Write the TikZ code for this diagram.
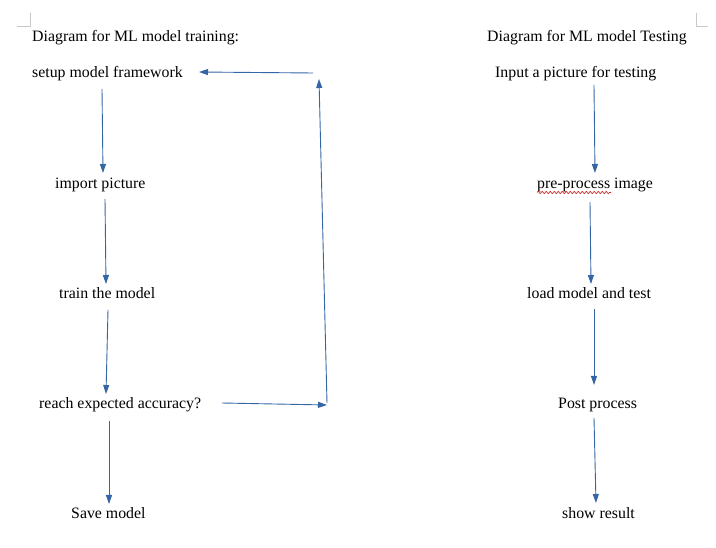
\documentclass[tikz,border=0pt]{standalone}
\usepackage{fontspec}
\setmainfont{Liberation Serif}
\usetikzlibrary{arrows.meta,decorations.pathmorphing}
\definecolor{arrowblue}{HTML}{3465A4}
\definecolor{markgray}{HTML}{C8C8C8}
\definecolor{squiggle}{HTML}{D02020}
\tikzset{
  lbl/.style={anchor=base west,inner sep=0pt,font=\fontsize{15.85}{19}\selectfont},
  flow/.style={draw=arrowblue,line width=0.9pt,-{Triangle[length=9pt,width=6pt]}},
  cornermark/.style={draw=markgray,line width=0.9pt}
}
\begin{document}
\begin{tikzpicture}[x=1pt,y=-1pt]
\useasboundingbox (0,0) rectangle (716,548);
% corner marks
\draw[cornermark] (30,13) -- (30,26) -- (17,26);
\draw[cornermark] (696,13) -- (696,26) -- (708,26);
% left column
\node[lbl] (h1) at (32,41.5) {Diagram for ML model training:};
\node[lbl] (s1) at (32,77.5) {setup model framework};
\node[lbl] (s2) at (55,188.5) {import picture};
\node[lbl] (s3) at (59,298.5) {train the model};
\node[lbl] (s4) at (39,408.5) {reach expected accuracy?};
\node[lbl] (s5) at (71,518.5) {Save model};
% right column
\node[lbl] (h2) at (487,41.5) {Diagram for ML model Testing};
\node[lbl] (t1) at (495,77.5) {Input a picture for testing};
\node[lbl] (t2) at (537,188.5) {pre-process image};
\node[lbl] (t3) at (527,298.5) {load model and test};
\node[lbl] (t4) at (558,408.5) {Post process};
\node[lbl] (t5) at (562,518.5) {show result};
% squiggly underline
\draw[squiggle,line width=0.6pt,decorate,decoration={snake,amplitude=1.2pt,segment length=4pt}] (537,192.5) -- (611,192.5);
% arrow endpoints
\coordinate (a1s) at (102,89);  \coordinate (a1e) at (103,173);
\coordinate (a2s) at (105,199); \coordinate (a2e) at (106,284);
\coordinate (a3s) at (108,310); \coordinate (a3e) at (106,394);
\coordinate (a4s) at (109,421); \coordinate (a4e) at (109,504);
\coordinate (a5s) at (222,403); \coordinate (a5e) at (327,405);
\coordinate (a6s) at (327,403); \coordinate (a6e) at (319,79);
\coordinate (a7s) at (313,73);  \coordinate (a7e) at (199,72);
\coordinate (b1s) at (594,85);  \coordinate (b1e) at (595,173);
\coordinate (b2s) at (590,202); \coordinate (b2e) at (591,284);
\coordinate (b3s) at (594,309); \coordinate (b3e) at (594,385);
\coordinate (b4s) at (594,418); \coordinate (b4e) at (596,503);
\draw[flow] (a1s) -- (a1e);
\draw[flow] (a2s) -- (a2e);
\draw[flow] (a3s) -- (a3e);
\draw[flow] (a4s) -- (a4e);
\draw[flow] (a5s) -- (a5e);
\draw[flow] (a6s) -- (a6e);
\draw[flow] (a7s) -- (a7e);
\draw[flow] (b1s) -- (b1e);
\draw[flow] (b2s) -- (b2e);
\draw[flow] (b3s) -- (b3e);
\draw[flow] (b4s) -- (b4e);
\end{tikzpicture}
\end{document}
